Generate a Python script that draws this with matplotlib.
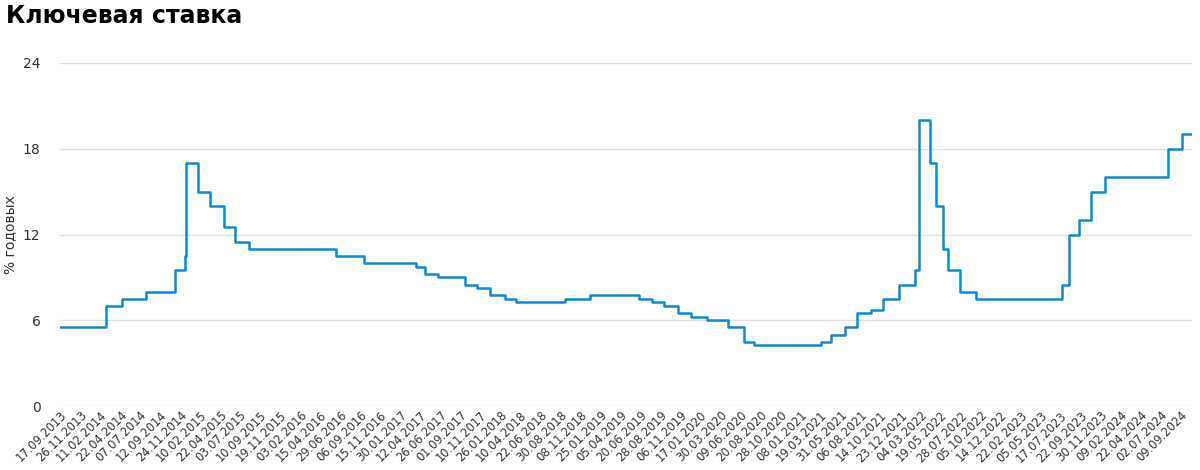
import numpy as np
import matplotlib.pyplot as plt
from datetime import datetime

# Key rate change dates and values (% per year)
change_dates = ["13.09.2013", "03.03.2014", "28.04.2014", "28.07.2014", "05.11.2014", "12.12.2014",
                "16.12.2014", "02.02.2015", "16.03.2015", "05.05.2015", "16.06.2015", "03.08.2015",
                "14.06.2016", "19.09.2016", "27.03.2017", "02.05.2017", "19.06.2017", "18.09.2017",
                "30.10.2017", "18.12.2017", "12.02.2018", "26.03.2018", "17.09.2018", "17.12.2018",
                "17.06.2019", "29.07.2019", "09.09.2019", "28.10.2019", "16.12.2019", "10.02.2020",
                "27.04.2020", "22.06.2020", "27.07.2020", "22.03.2021", "26.04.2021", "15.06.2021",
                "26.07.2021", "13.09.2021", "25.10.2021", "20.12.2021", "14.02.2022", "28.02.2022",
                "11.04.2022", "04.05.2022", "27.05.2022", "14.06.2022", "25.07.2022", "19.09.2022",
                "24.07.2023", "15.08.2023", "18.09.2023", "30.10.2023", "18.12.2023", "29.07.2024",
                "16.09.2024", "18.10.2024"]
rates = [5.5, 7.0, 7.5, 8.0, 9.5, 10.5, 17.0, 15.0, 14.0, 12.5, 11.5, 11.0,
         10.5, 10.0, 9.75, 9.25, 9.0, 8.5, 8.25, 7.75, 7.5, 7.25, 7.5, 7.75,
         7.5, 7.25, 7.0, 6.5, 6.25, 6.0, 5.5, 4.5, 4.25, 4.5, 5.0, 5.5,
         6.5, 6.75, 7.5, 8.5, 9.5, 20.0, 17.0, 14.0, 11.0, 9.5, 8.0, 7.5,
         8.5, 12.0, 13.0, 15.0, 16.0, 18.0, 19.0, 19.0]

tick_labels = ["17.09.2013", "26.11.2013", "11.02.2014", "22.04.2014", "07.07.2014", "12.09.2014",
               "24.11.2014", "10.02.2015", "22.04.2015", "03.07.2015", "10.09.2015", "19.11.2015",
               "03.02.2016", "15.04.2016", "29.06.2016", "06.09.2016", "15.11.2016", "30.01.2017",
               "12.04.2017", "26.06.2017", "01.09.2017", "10.11.2017", "26.01.2018", "10.04.2018",
               "22.06.2018", "30.08.2018", "08.11.2018", "25.01.2019", "05.04.2019", "20.06.2019",
               "28.08.2019", "06.11.2019", "17.01.2020", "30.03.2020", "09.06.2020", "20.08.2020",
               "28.10.2020", "08.01.2021", "19.03.2021", "31.05.2021", "06.08.2021", "14.10.2021",
               "23.12.2021", "04.03.2022", "19.05.2022", "28.07.2022", "05.10.2022", "14.12.2022",
               "22.02.2023", "05.05.2023", "17.07.2023", "22.09.2023", "30.11.2023", "09.02.2024",
               "22.04.2024", "02.07.2024", "09.09.2024"]

def to_ord(s):
    return datetime.strptime(s, "%d.%m.%Y").toordinal()

# Category-style x axis: map dates onto tick index positions
tick_ord = np.array([to_ord(s) for s in tick_labels] + [to_ord("18.11.2024")])
tick_pos = np.arange(len(tick_ord))
x = np.interp([to_ord(s) for s in change_dates], tick_ord, tick_pos)
x[0] = 0

fig = plt.figure(figsize=(12, 4.7), dpi=100)
ax = fig.add_axes([0.05, 0.136, 0.943, 0.73])
ax.step(x, rates, where='post', color='#0a8ad0', linewidth=1.8)

ax.set_xlim(0, x[-1])
ax.set_ylim(0, 24)
ax.set_yticks([0, 6, 12, 18, 24])
ax.set_xticks(tick_pos[:len(tick_labels)])
ax.set_xticklabels(tick_labels, rotation=45, ha='right', rotation_mode='anchor', fontsize=8.3, color='#333333')
ax.tick_params(axis='y', length=0, labelsize=10, colors='#333333', pad=14)
ax.tick_params(axis='x', length=0, pad=2)
ax.grid(axis='y', color='#e0e0e0', linewidth=1)
ax.set_axisbelow(True)
for s in ax.spines.values():
    s.set_visible(False)
ax.set_ylabel("% годовых", fontsize=10, color='#333333')

fig.text(0.005, 0.965, "Ключевая ставка", fontsize=17, fontweight='bold', va='center')

plt.savefig('out.png', dpi=100)
plt.close()
